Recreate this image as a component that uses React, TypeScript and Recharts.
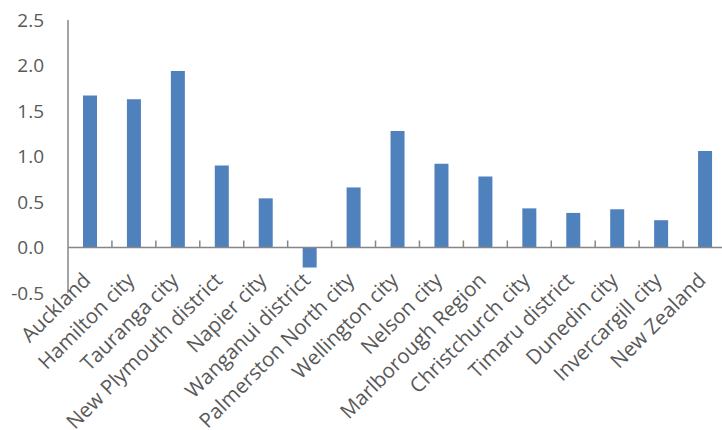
import React from "react";
import { BarChart, Bar, XAxis, YAxis, ReferenceLine } from "recharts";

const BLUE = "#4F81BD";
const AXIS = "#868686";
const TEXT = "#595959";
const FONT = "'Open Sans', sans-serif";

const places = [
  "Auckland",
  "Hamilton city",
  "Tauranga city",
  "New Plymouth district",
  "Napier city",
  "Wanganui district",
  "Palmerston North city",
  "Wellington city",
  "Nelson city",
  "Marlborough Region",
  "Christchurch city",
  "Timaru district",
  "Dunedin city",
  "Invercargill city",
  "New Zealand",
];
const values = [1.67, 1.63, 1.94, 0.9, 0.54, -0.22, 0.66, 1.28, 0.92, 0.78, 0.43, 0.38, 0.42, 0.3, 1.06];
const yTicks = [-0.5, 0, 0.5, 1, 1.5, 2, 2.5];

const data = places.map((name, i) => ({ name, value: values[i] }));

// chart geometry
const W = 730;
const H = 430;
const M = { top: 20, right: 3, bottom: 0, left: 0 };
const Y_W = 68;
const X_H = 137;
const plotH = H - M.top - M.bottom - X_H;
const plotW = W - M.left - M.right - Y_W;
const band = plotW / places.length;
const yMin = -0.5;
const yMax = 2.5;
const zeroY = M.top + ((yMax - 0) / (yMax - yMin)) * plotH;

function CatTick(props: any) {
  const { x, payload, index } = props;
  const px = x + 2;
  const py = zeroY + 34;
  return (
    <g>
      {index < places.length - 1 && (
        <line x1={x + band / 2} x2={x + band / 2} y1={zeroY - 7} y2={zeroY} stroke={AXIS} strokeWidth={1.5} />
      )}
      <text
        x={px}
        y={py}
        transform={`rotate(-45 ${px} ${py})`}
        textAnchor="end"
        fill={TEXT}
        fontSize={20.5}
        fontFamily={FONT}
      >
        {payload.value}
      </text>
    </g>
  );
}

export default function App() {
  return (
    <div style={{ position: "absolute", left: 0, top: 0, width: 722, height: 430, overflow: "hidden", background: "#fff" }}>
      <BarChart width={W} height={H} data={data} margin={M} barSize={14}>
        <YAxis
          domain={[yMin, yMax]}
          ticks={yTicks}
          type="number"
          width={Y_W}
          interval={0}
          allowDataOverflow
          tickFormatter={(v: number) => v.toFixed(1)}
          tickLine={false}
          tickSize={0}
          tickMargin={24}
          axisLine={{ stroke: AXIS, strokeWidth: 1.5 }}
          tick={{ fill: TEXT, fontSize: 19, fontFamily: FONT }}
        />
        <XAxis
          dataKey="name"
          height={X_H}
          interval={0}
          axisLine={false}
          tickLine={false}
          tick={<CatTick />}
        />
        <Bar dataKey="value" fill={BLUE} isAnimationActive={false} />
        <ReferenceLine y={0} stroke={AXIS} strokeWidth={1.5} />
      </BarChart>
    </div>
  );
}
